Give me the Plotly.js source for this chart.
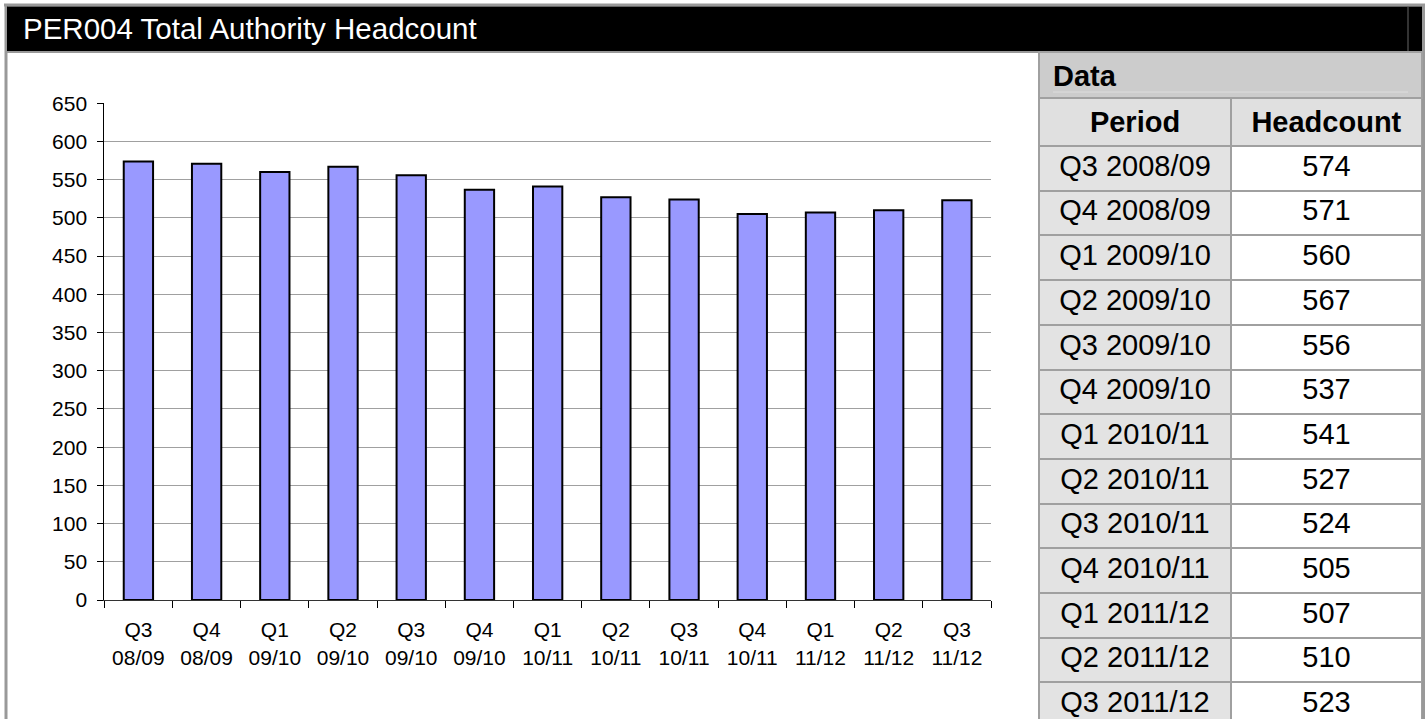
<!DOCTYPE html>
<html>
<head>
<meta charset="utf-8">
<script src="https://cdn.plot.ly/plotly-3.0.1.min.js"></script>
<style>
  html, body { margin: 0; padding: 0; overflow: hidden; background: #ffffff; }
  #chart { width: 1425px; height: 730px; }
</style>
</head>
<body>
<div id="chart"></div>
<script>
// ---- Data ----
const periods = ["Q3 2008/09", "Q4 2008/09", "Q1 2009/10", "Q2 2009/10", "Q3 2009/10",
                 "Q4 2009/10", "Q1 2010/11", "Q2 2010/11", "Q3 2010/11", "Q4 2010/11",
                 "Q1 2011/12", "Q2 2011/12", "Q3 2011/12"];
const tickLabels = ["Q3<br>08/09", "Q4<br>08/09", "Q1<br>09/10", "Q2<br>09/10", "Q3<br>09/10",
                    "Q4<br>09/10", "Q1<br>10/11", "Q2<br>10/11", "Q3<br>10/11", "Q4<br>10/11",
                    "Q1<br>11/12", "Q2<br>11/12", "Q3<br>11/12"];
const headcount = [574, 571, 560, 567, 556, 537, 541, 527, 524, 505, 507, 510, 523];
const chartTitle = "PER004 Total Authority Headcount";
const tableTitle = "Data";
const tableHeaders = ["Period", "Headcount"];
const yTicks = [0, 50, 100, 150, 200, 250, 300, 350, 400, 450, 500, 550, 600, 650];

// ---- Layout helpers (pixel -> paper) ----
const W = 1425, H = 730;
const X = px => px / W;
const Y = py => (H - py) / H;
const FONT = "Liberation Sans, Arial, Helvetica, sans-serif";

const bars = {
  type: "bar",
  x: tickLabels,
  y: headcount,
  marker: { color: "#9999ff", line: { color: "#000000", width: 2 } },
  hoverinfo: "x+y",
  xaxis: "x", yaxis: "y"
};

const table = {
  type: "table",
  domain: { x: [X(1039), X(1422)], y: [0, Y(98)] },
  columnwidth: [192, 191],
  header: {
    values: tableHeaders.map(h => "<b>" + h + "</b>"),
    align: ["center", "center"],
    height: 44,
    fill: { color: "#e0e0e0" },
    line: { color: "#a0a0a0", width: 2 },
    font: { family: FONT, size: 29, color: "#000000" }
  },
  cells: {
    values: [periods, headcount],
    align: ["center", "center"],
    height: 44.7,
    fill: { color: [periods.map(() => "#e3e3e3"), headcount.map(() => "#ffffff")] },
    line: { color: "#a0a0a0", width: 2 },
    font: { family: FONT, size: 29, color: "#000000" }
  }
};

const layout = {
  width: W, height: H,
  margin: { l: 0, r: 0, t: 0, b: 0, pad: 0 },
  paper_bgcolor: "#ffffff",
  plot_bgcolor: "#ffffff",
  showlegend: false,
  bargap: 0.57,
  font: { family: FONT, size: 21, color: "#000000" },
  xaxis: {
    domain: [X(104.3), X(991)],
    type: "category",
    showgrid: false,
    showline: true, linecolor: "#333333", linewidth: 1,
    ticks: "outside", ticklen: 7, tickcolor: "#000000", tickwidth: 1,
    tickson: "boundaries",
    ticklabelstandoff: 11,
    tickfont: { family: FONT, size: 21, color: "#000000" },
    fixedrange: true
  },
  yaxis: {
    domain: [Y(600), Y(103.3)],
    range: [0, 650],
    tickmode: "array",
    tickvals: yTicks,
    ticktext: yTicks.map(String),
    showgrid: true, gridcolor: "#a0a0a0", gridwidth: 1,
    showline: true, linecolor: "#000000", linewidth: 1,
    zeroline: false,
    ticks: "outside", ticklen: 6, tickcolor: "#000000", tickwidth: 1,
    ticklabelstandoff: 6,
    tickfont: { family: FONT, size: 21, color: "#000000" },
    fixedrange: true
  },
  shapes: [
    // outer frame
    { type: "line", xref: "paper", yref: "paper", x0: X(4), x1: X(1425), y0: Y(5), y1: Y(5), line: { color: "#999999", width: 3 } },
    { type: "line", xref: "paper", yref: "paper", x0: X(6), x1: X(6), y0: Y(4), y1: Y(730), line: { color: "#999999", width: 3 } },
    { type: "line", xref: "paper", yref: "paper", x0: X(1423.5), x1: X(1423.5), y0: Y(4), y1: Y(730), line: { color: "#999999", width: 3 } },
    // header band
    { type: "rect", xref: "paper", yref: "paper", x0: X(7), x1: X(1422), y0: Y(6.5), y1: Y(51), fillcolor: "#000000", line: { width: 0 } },
    { type: "line", xref: "paper", yref: "paper", x0: X(1408), x1: X(1408), y0: Y(6.5), y1: Y(51), line: { color: "#666666", width: 1 } },
    { type: "line", xref: "paper", yref: "paper", x0: X(6), x1: X(1422), y0: Y(52), y1: Y(52), line: { color: "#999999", width: 2 } },
    // "Data" title row of the table
    { type: "rect", xref: "paper", yref: "paper", x0: X(1039), x1: X(1422), y0: Y(52), y1: Y(98), fillcolor: "#cccccc", line: { color: "#a0a0a0", width: 2 } },
    { type: "line", xref: "paper", yref: "paper", x0: X(1053), x1: X(1408), y0: Y(92), y1: Y(92), line: { color: "#dddddd", width: 1 } }
  ],
  annotations: [
    { xref: "paper", yref: "paper", x: X(21), y: Y(28.5), xanchor: "left", yanchor: "middle",
      text: chartTitle, showarrow: false, font: { family: FONT, size: 29.5, color: "#ffffff" } },
    { xref: "paper", yref: "paper", x: X(1051), y: Y(76), xanchor: "left", yanchor: "middle",
      text: "<b>" + tableTitle + "</b>", showarrow: false, font: { family: FONT, size: 29, color: "#000000" } }
  ]
};

Plotly.newPlot("chart", [bars, table], layout, { displayModeBar: false, staticPlot: false, responsive: false });
</script>
</body>
</html>
